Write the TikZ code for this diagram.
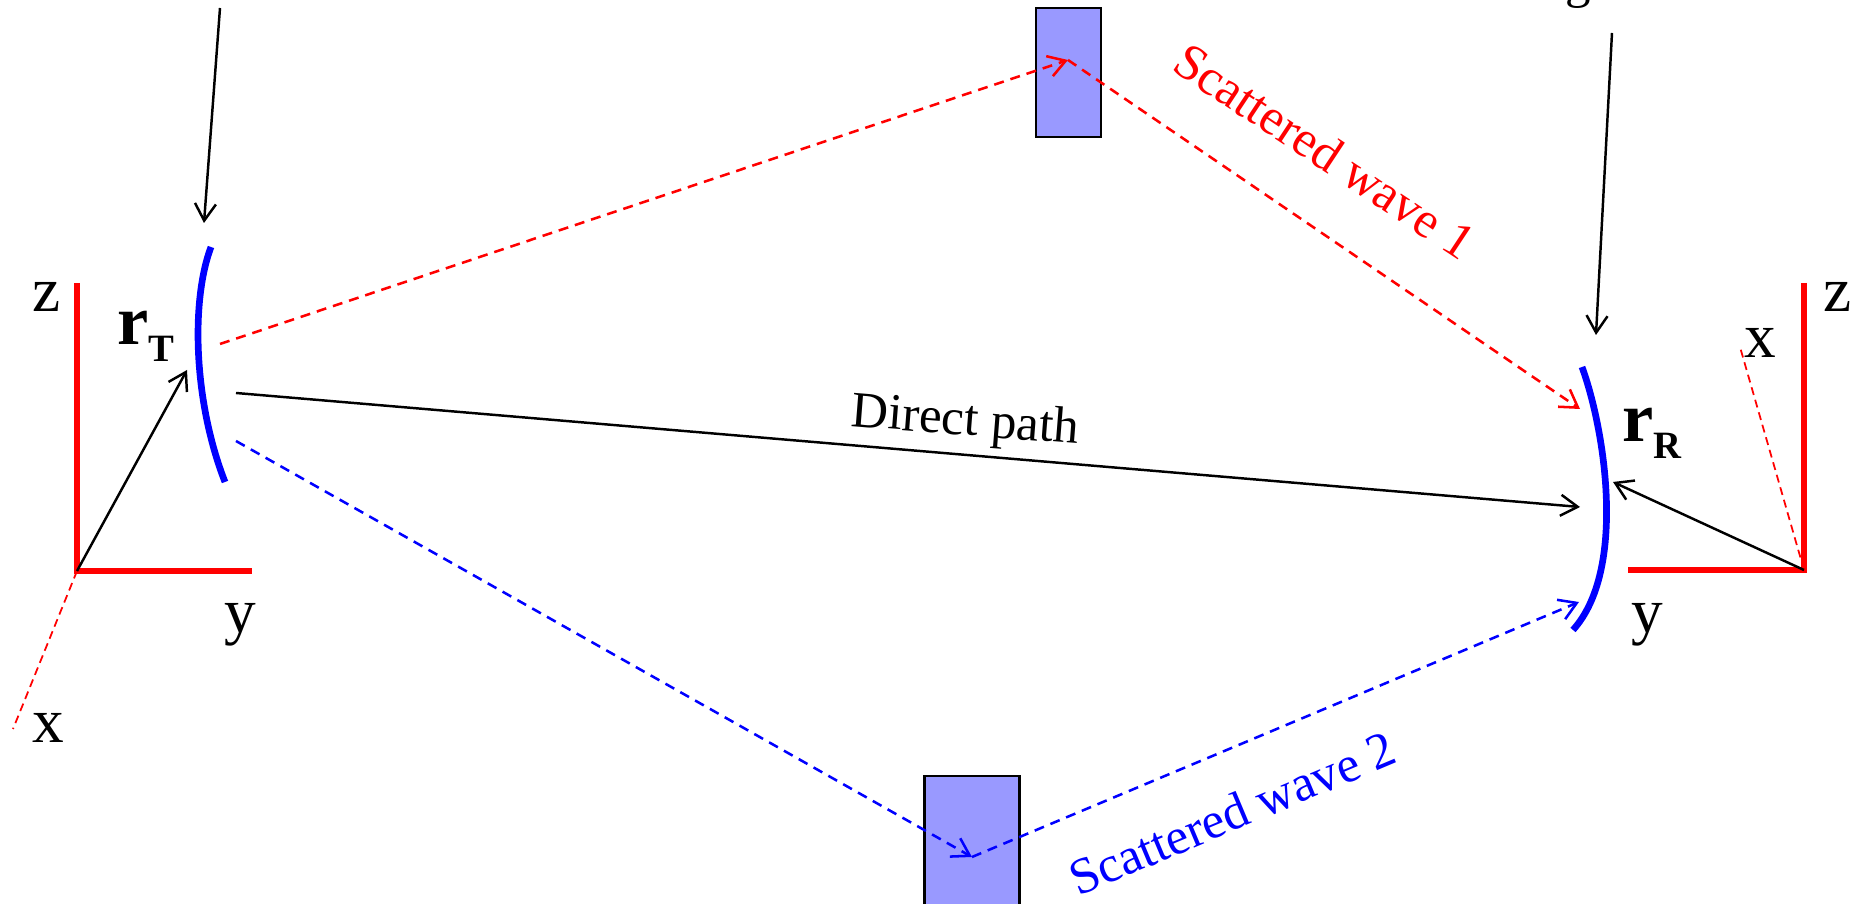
\documentclass[tikz,border=0pt]{standalone}
\usepackage{fontspec}
\setmainfont{Liberation Serif}
\usetikzlibrary{arrows.meta}
\definecolor{scatfill}{RGB}{153,153,255}
\tikzset{
  tip/.style={-{Straight Barb[length=1.7mm,width=2.1mm]}},
  thinline/.style={line width=0.7pt},
  antenna/.style={blue, line width=1.9pt},
  axisline/.style={red, line width=1.5pt},
  depthaxis/.style={red, line width=0.5pt, dash pattern=on 0.08cm off 0.05cm},
  wave/.style={line width=0.72pt, dash pattern=on 0.1cm off 0.07cm, tip},
  scatterer/.style={draw=black, line width=0.6pt, fill=scatfill},
  axislabel/.style={font=\fontsize{18}{20}\selectfont, anchor=base, inner sep=0pt},
  poslabel/.style={anchor=base west, inner sep=0pt},
  pathlabel/.style={font=\fontsize{14.5}{16}\selectfont, inner sep=0pt},
}
\newcommand{\posvec}[1]{{\fontsize{20}{22}\selectfont\bfseries r}\raisebox{-0.17cm}{\fontsize{11}{12}\selectfont\bfseries #1}}
\begin{document}
\begin{tikzpicture}[x=0.01cm, y=-0.01cm]
\useasboundingbox (0,0) rectangle (1862,904);
\clip (0,0) rectangle (1862,904);

% scatterers
\node[scatterer, minimum width=0.65cm, minimum height=1.29cm, inner sep=0pt] (obj1) at (1068.5,72.5) {};
\node[scatterer, minimum width=0.95cm, minimum height=1.6cm, inner sep=0pt] (obj2) at (972,856) {};

% transmitter frame
\coordinate (oT) at (77,571);
\coordinate (zT) at (77,283);
\coordinate (yT) at (252,571);
\coordinate (xT) at (13,729);
\draw[axisline] (zT) -- (oT) -- (yT);
\draw[depthaxis] (oT) -- (xT);
\node[axislabel] (lzT) at (47,312) {z};
\node[axislabel] (lyT) at (240,633) {y};
\node[axislabel] (lxT) at (48,743) {x};

% receiver frame
\coordinate (oR) at (1804,570);
\coordinate (zR) at (1804,283);
\coordinate (yR) at (1628,570);
\coordinate (xR) at (1740,347);
\draw[axisline] (zR) -- (oR) -- (yR);
\draw[depthaxis] (oR) -- (xR);
\node[axislabel] (lzR) at (1838,312) {z};
\node[axislabel] (lyR) at (1647,633) {y};
\node[axislabel] (lxR) at (1760,358) {x};

% antenna arrays
\coordinate (tTop) at (211,247);
\coordinate (tBot) at (225,482);
\draw[antenna] (tTop) .. controls (191,300) and (193,400) .. (tBot);
\coordinate (rTop) at (1582,367);
\coordinate (rBot) at (1573,630);
\draw[antenna] (rTop) .. controls (1605,430) and (1627,570) .. (rBot);

% position vectors
\coordinate (rTend) at (187,370);
\coordinate (rRend) at (1613,482);
\draw[thinline, tip] (oT) -- (rTend);
\draw[thinline, tip] (oR) -- (rRend);
\node[poslabel] (lrT) at (117,345) {\posvec{T}};
\node[poslabel] (lrR) at (1622,442) {\posvec{R}};

% feed arrows from above
\coordinate (feedT) at (220,8);
\coordinate (feedTend) at (204,223);
\coordinate (feedR) at (1612,33);
\coordinate (feedRend) at (1596,335);
\draw[thinline, tip] (feedT) -- (feedTend);
\draw[thinline, tip] (feedR) -- (feedRend);
\node[font=\fontsize{14.5}{16}\selectfont, anchor=base, inner sep=0pt] (feedRtxt) at (1578,-2) {g};

% direct path
\coordinate (dS) at (236,393);
\coordinate (dE) at (1580,507);
\draw[thinline, tip] (dS) -- (dE);
\node[pathlabel, anchor=base, rotate=-4.5] (dlab) at (964,435) {Direct path};

% scattered wave 1
\coordinate (s1S) at (220,344);
\coordinate (s1M) at (1068,60);
\coordinate (s1E) at (1580,409);
\draw[wave, red] (s1S) -- (s1M);
\draw[wave, red] (s1M) -- (s1E);
\node[pathlabel, red, rotate=-33.5] (s1lab) at (1325,151) {Scattered wave 1};

% scattered wave 2
\coordinate (s2S) at (236,441);
\coordinate (s2M) at (972,857);
\coordinate (s2E) at (1579,602);
\draw[wave, blue] (s2S) -- (s2M);
\draw[wave, blue] (s2M) -- (s2E);
\node[pathlabel, blue, rotate=22.8] (s2lab) at (1232,813) {Scattered wave 2};
\end{tikzpicture}
\end{document}
